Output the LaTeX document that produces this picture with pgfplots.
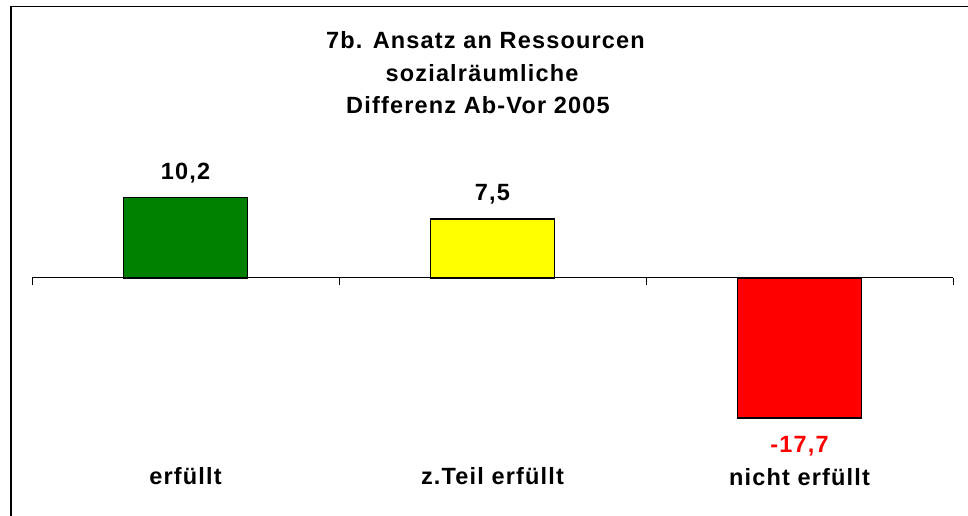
\documentclass[border=0pt]{standalone}
\usepackage{pgfplots}
\pgfplotsset{compat=1.18}
\usepackage{fontspec}
\setmainfont{Liberation Sans}[LetterSpace=5]
\definecolor{bgreen}{RGB}{0,128,0}
\definecolor{byellow}{RGB}{255,255,0}
\definecolor{bred}{RGB}{255,0,0}
\begin{document}
\begin{tikzpicture}[x=1pt,y=1pt,
  lbl/.style={font=\bfseries\fontsize{23.5}{28}\selectfont, inner sep=0pt, anchor=base}]
\useasboundingbox (0,0) rectangle (968,516);
\fill[white] (0,0) rectangle (968,516);
\draw[line width=1.3pt] (11,0) -- (11,509.5) -- (968,509.5);
\begin{axis}[at={(32pt,80pt)}, anchor=south west, scale only axis,
  width=921pt, height=252.8pt,
  xmin=-0.5, xmax=2.5, ymin=-20, ymax=12,
  axis lines=none, clip=false,
  ybar, bar width=124pt, bar shift=0pt,
  every axis plot/.append style={line width=1.8pt, draw=black}]
\draw[line width=1pt] (axis cs:-0.5,0) -- (axis cs:2.5,0);
\draw[line width=1pt] (axis cs:-0.5,0) -- ([yshift=-7pt]axis cs:-0.5,0);
\draw[line width=1pt] (axis cs:0.5,0) -- ([yshift=-7pt]axis cs:0.5,0);
\draw[line width=1pt] (axis cs:1.5,0) -- ([yshift=-7pt]axis cs:1.5,0);
\draw[line width=1pt] (axis cs:2.5,0) -- ([yshift=-7pt]axis cs:2.5,0);
\addplot[fill=bgreen, draw=black, line width=1.8pt] coordinates {(0,10.2)};
\addplot[fill=byellow, draw=black, line width=1.8pt] coordinates {(1,7.5)};
\addplot[fill=bred, draw=black, line width=1.8pt] coordinates {(2,-17.7)};
\node[lbl] at (axis cs:0,10.2) [yshift=18pt] {10,2};
\node[lbl] at (axis cs:1,7.5) [yshift=18pt] {7,5};
\node[lbl, text=bred] at (axis cs:2,-17.7) [yshift=-35pt] {-17,7};
\end{axis}
\node[lbl] at (185.5,31) {erfüllt};
\node[lbl] at (492.5,31) {z.Teil erfüllt};
\node[lbl] at (799.5,30) {nicht erfüllt};
\node[lbl] at (485.5,467) {7b. Ansatz an Ressourcen};
\node[lbl] at (482,434.5) {sozialräumliche};
\node[lbl] at (478,402) {Differenz Ab-Vor 2005};
\end{tikzpicture}
\end{document}
